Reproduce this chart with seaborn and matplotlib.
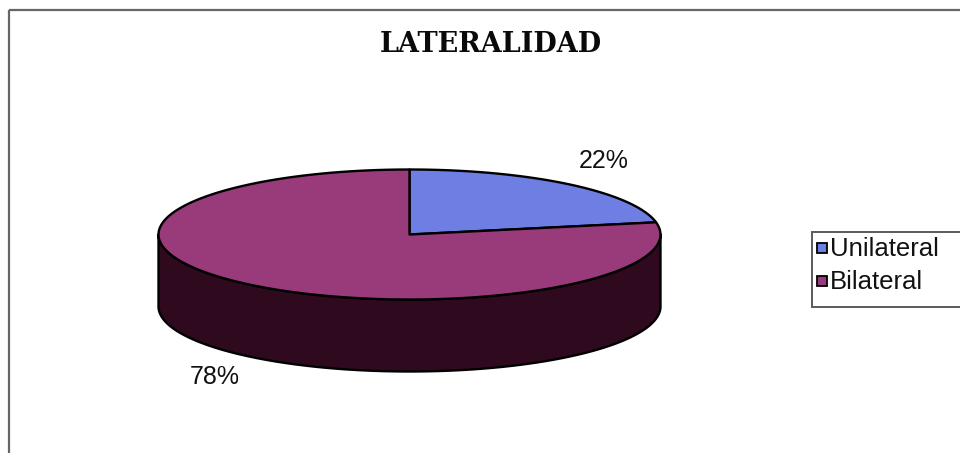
import numpy as np
import matplotlib
matplotlib.use("Agg")
import matplotlib.pyplot as plt
from matplotlib.patches import Polygon, Rectangle
import seaborn as sns

# Data
categories = ["Unilateral", "Bilateral"]
values = [22, 78]
chart_title = "LATERALIDAD"

# Styling
top_colors = ["#6e7ee2", "#993a7a"]
side_colors = ["#1c2260", "#2f0a1f"]

sns.set_theme(style="white")
plt.rcParams["font.family"] = ["Liberation Sans", "DejaVu Sans"]

W, H = 960, 453
fig = plt.figure(figsize=(W / 100, H / 100), dpi=100)
ax = fig.add_axes([0, 0, 1, 1])
ax.set_xlim(0, W)
ax.set_ylim(H, 0)
ax.axis("off")

# Pie geometry (pixel space): top ellipse centre, radii, and extrusion depth
cx, cy, a, b, depth = 409.5, 234.5, 251.0, 65.0, 72.0


def ellipse_pts(t0, t1, dy=0.0, n=200):
    t = np.radians(np.linspace(t0, t1, n))
    return np.column_stack([cx + a * np.cos(t), cy - b * np.sin(t) + dy])


fracs = np.array(values, dtype=float) / np.sum(values)
starts = 90.0 - 360.0 * np.concatenate([[0.0], np.cumsum(fracs)[:-1]])
ends = starts - 360.0 * fracs

# Side walls: only the front half (sin < 0) is visible
for s, e, col in zip(starts, ends, side_colors):
    for k in (-1, 0, 1):
        lo, hi = max(e, -180 + 360 * k), min(s, 360 * k)
        if hi - lo > 0:
            upper = ellipse_pts(hi, lo)
            lower = ellipse_pts(lo, hi, dy=depth)
            ax.add_patch(Polygon(np.vstack([upper, lower]), closed=True,
                                 facecolor=col, edgecolor="black", lw=1.7,
                                 joinstyle="round"))

# Top faces
for s, e, col in zip(starts, ends, top_colors):
    pts = np.vstack([[cx, cy], ellipse_pts(s, e)])
    ax.add_patch(Polygon(pts, closed=True, facecolor=col, edgecolor="black",
                         lw=1.7, joinstyle="round"))

# Percentage labels
label_xy = [(604, 161), (215, 377)]
for v, (lx, ly) in zip(values, label_xy):
    ax.text(lx, ly, f"{v}%", ha="center", va="center", fontsize=18,
            color="#111111")

# Title
ax.text(491, 44, chart_title, ha="center", va="center", fontsize=19.5,
        fontweight="heavy", family=["DejaVu Serif"], color="#0a0a0a")

# Chart frame (left and top edges)
ax.plot([9, 9], [10, H + 5], color="#666666", lw=1.6, solid_capstyle="butt")
ax.plot([9, W + 5], [10, 10], color="#666666", lw=1.6, solid_capstyle="butt")

# Legend box
ax.add_patch(Rectangle((812, 232), 200, 75, facecolor="white",
                       edgecolor="#5a5a5a", lw=1.4))
for i, (cat, col) in enumerate(zip(categories, top_colors)):
    yc = 248 + 33 * i
    ax.add_patch(Rectangle((817, yc - 5), 10, 10, facecolor=col,
                           edgecolor="black", lw=1.3))
    ax.text(830, yc + 1, cat, ha="left", va="center", fontsize=18.5,
            color="#111111")

fig.savefig("out.png", dpi=100, facecolor="white")
